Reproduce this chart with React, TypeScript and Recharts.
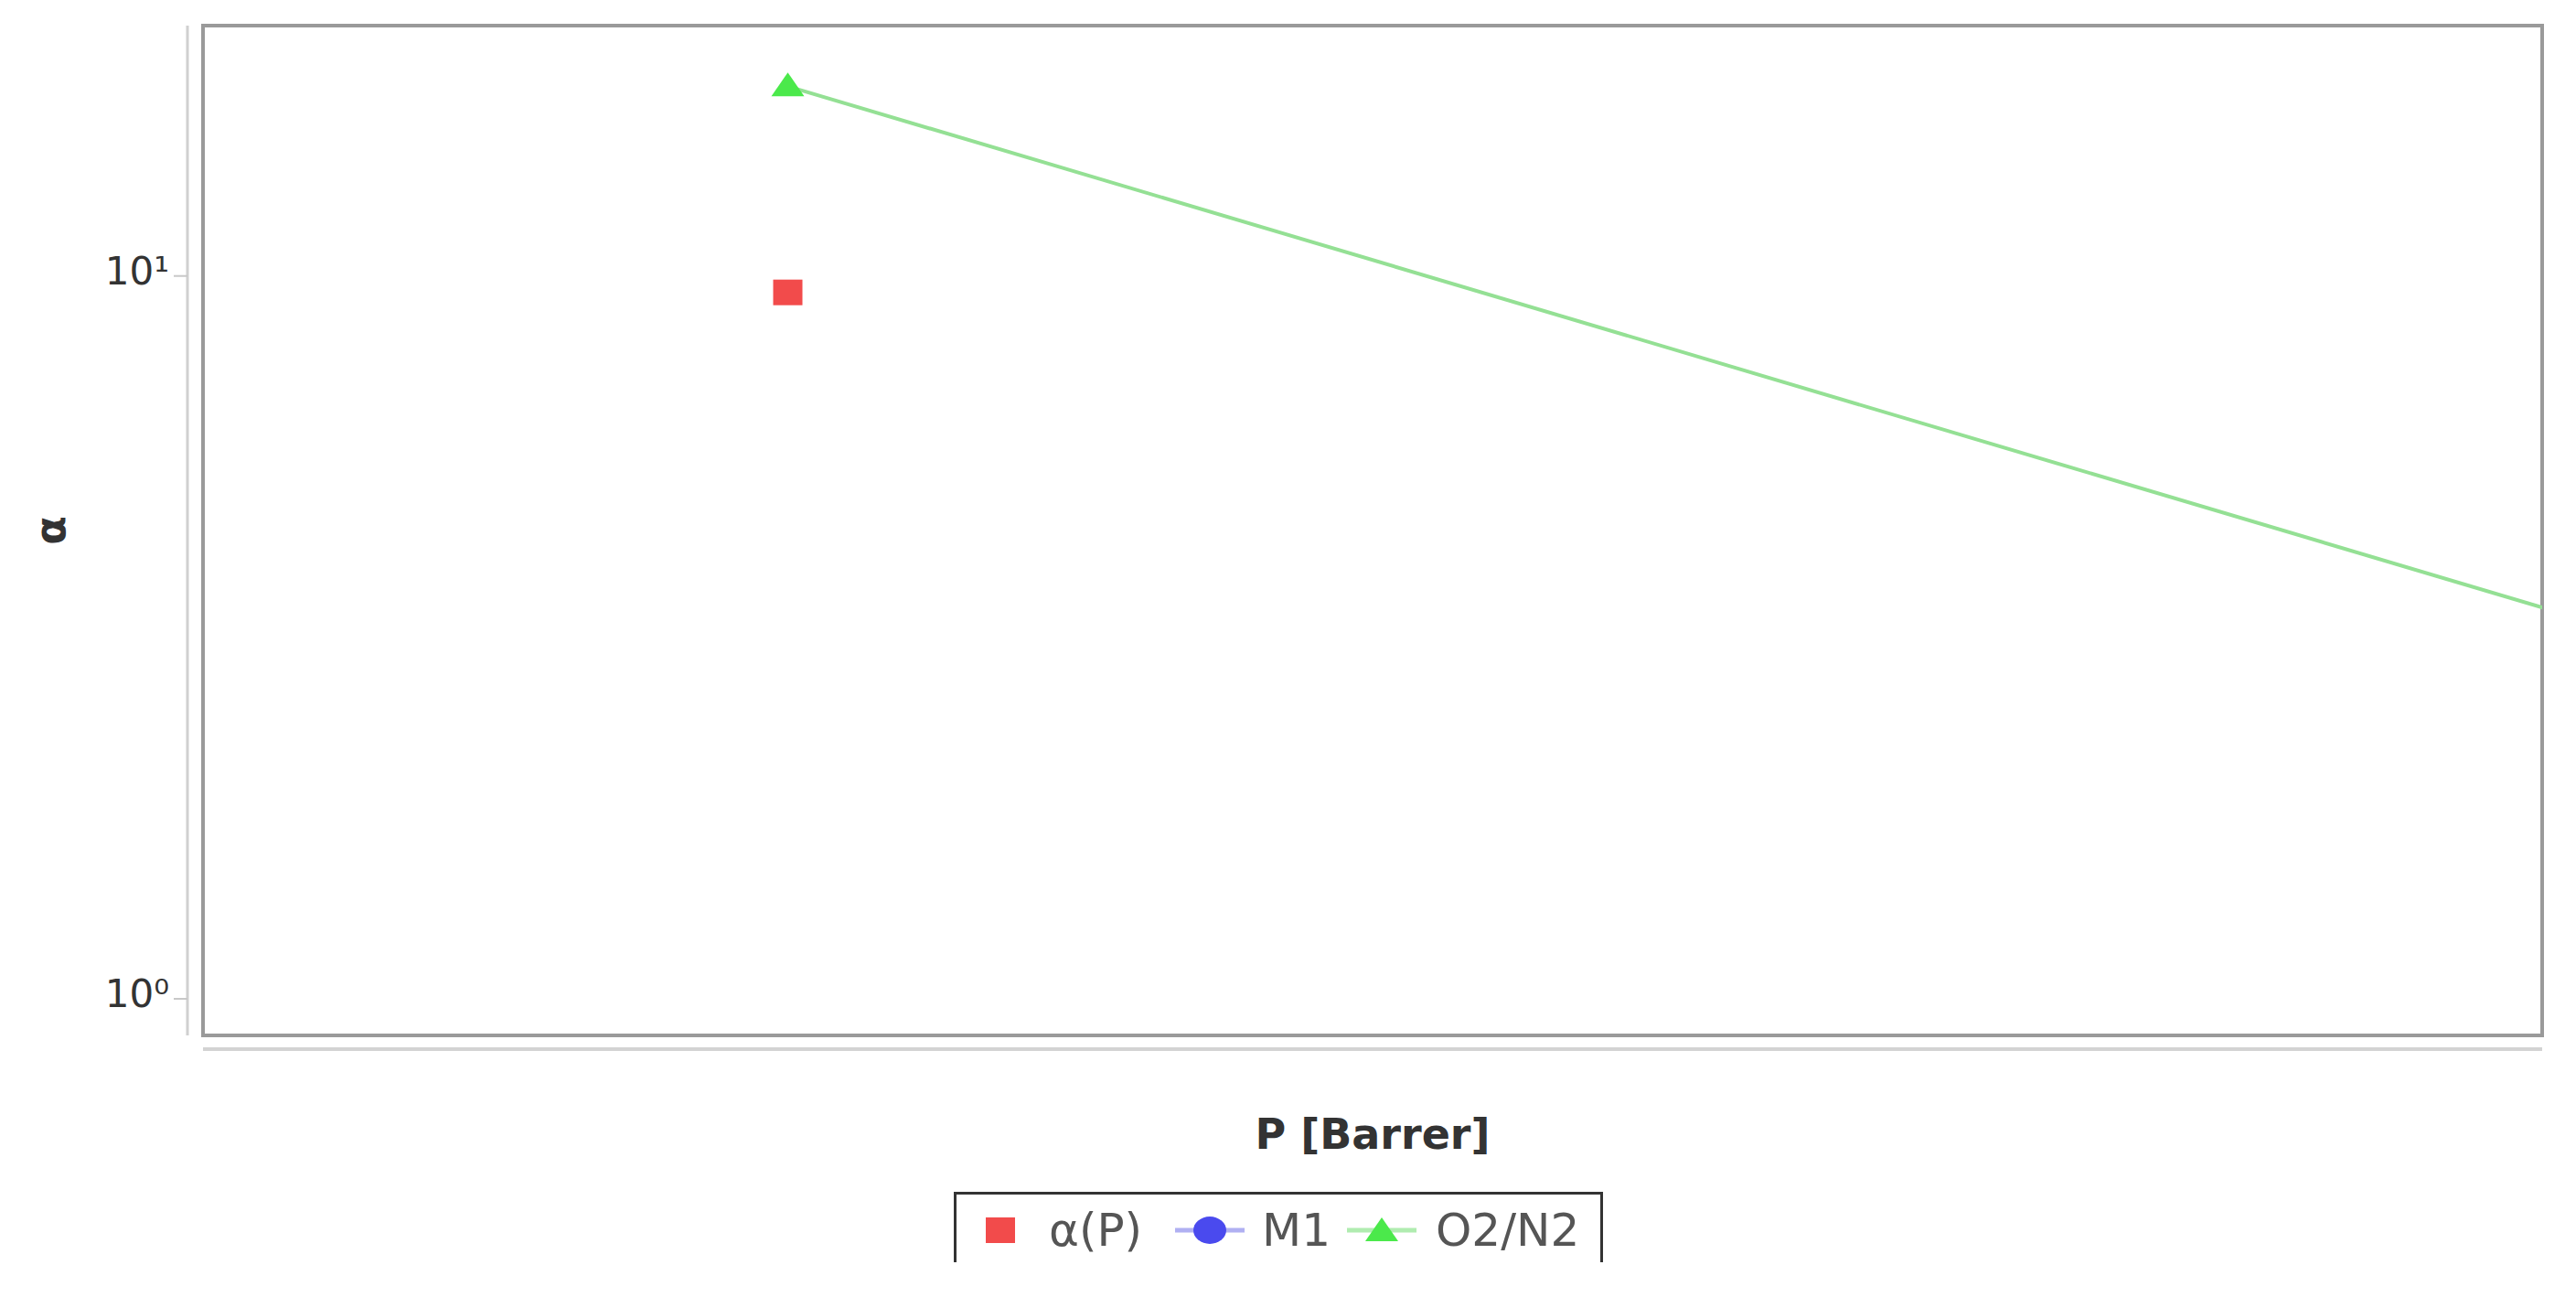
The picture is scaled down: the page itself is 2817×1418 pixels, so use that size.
import {
  ComposedChart,
  Line,
  Scatter,
  XAxis,
  YAxis,
  ReferenceArea,
  Legend,
} from "recharts";

// values
const alphaP = [{ x: 1, y: 9.49 }];
const m1: { x: number; y: number }[] = [];
const o2n2 = [
  { x: 1, y: 18.3 },
  { x: 6, y: 1.15 },
];

const xDomain: [number, number] = [0, 4];
const yDomain: [number, number] = [0.89, 22.2];
const yTicks = [1, 10];
const yTickLabels = ["10⁰", "10¹"];

const legendItems = [
  { name: "α(P)", kind: "square", color: "#f24b4b", line: "", icon: 31, text: 101 },
  { name: "M1", kind: "circle", color: "#4a4aee", line: "#b0b0f2", icon: 239, text: 334 },
  { name: "O2/N2", kind: "triangle", color: "#4be94b", line: "#b0ecb0", icon: 427, text: 524 },
];

const FONT = "DejaVu Sans";

function LogTick({ x, y, payload }: any) {
  const i = yTicks.indexOf(payload.value);
  return (
    <text
      x={x - 22}
      y={y + 9}
      textAnchor="end"
      fontSize={42}
      fill="#333"
      fontFamily={FONT}
    >
      {yTickLabels[i]}
    </text>
  );
}

function SquareShape({ cx, cy }: any) {
  return <rect x={cx - 16} y={cy - 14} width={32} height={28} fill="#f24b4b" />;
}

function TriangleDot({ cx, cy, index }: any) {
  if (cx == null || cy == null) return <g key={index} />;
  return (
    <polygon
      key={index}
      points={`${cx},${cy - 15} ${cx + 18},${cy + 11} ${cx - 18},${cy + 11}`}
      fill="#4be94b"
    />
  );
}

function LegendIcon({ kind, color, line }: any) {
  if (kind === "square") {
    return (
      <svg width={34} height={30} style={{ display: "block" }}>
        <rect x={1} y={1} width={32} height={28} fill={color} />
      </svg>
    );
  }
  return (
    <svg width={76} height={34} style={{ display: "block" }}>
      <line x1={0} y1={17} x2={76} y2={17} stroke={line} strokeWidth={5} />
      {kind === "circle" ? (
        <ellipse cx={38} cy={17} rx={18} ry={15} fill={color} />
      ) : (
        <polygon points="38,3 56,29 20,29" fill={color} />
      )}
    </svg>
  );
}

function LegendBox() {
  return (
    <div
      style={{
        position: "relative",
        border: "3px solid #333",
        height: 120,
        boxSizing: "border-box",
        fontFamily: FONT,
        fontSize: 50,
        color: "#555",
        background: "#fff",
      }}
    >
      {legendItems.map((it) => (
        <div key={it.name}>
          <div
            style={{
              position: "absolute",
              left: it.icon,
              top: it.kind === "square" ? 24 : 22,
            }}
          >
            <LegendIcon {...it} />
          </div>
          <span
            style={{
              position: "absolute",
              left: it.text,
              top: 14,
              lineHeight: "50px",
              whiteSpace: "nowrap",
            }}
          >
            {it.name}
          </span>
        </div>
      ))}
    </div>
  );
}

export default function App() {
  return (
    <div
      style={{
        position: "absolute",
        left: 0,
        top: 0,
        width: 2817,
        height: 1380,
        overflow: "hidden",
        background: "#fff",
      }}
    >
      <ComposedChart
        width={2817}
        height={1380}
        margin={{ top: 28, right: 37, left: 0, bottom: 0 }}
      >
        <XAxis
          type="number"
          dataKey="x"
          domain={xDomain}
          allowDataOverflow
          height={248}
          tick={false}
          tickLine={false}
          axisLine={{ stroke: "#d3d3d3", strokeWidth: 4, transform: "translate(0,15)" }}
          label={{
            value: "P [Barrer]",
            position: "insideTop",
            offset: 91,
            fontSize: 46,
            fontWeight: "bold",
            fill: "#333",
            fontFamily: FONT,
          }}
        />
        <YAxis
          type="number"
          dataKey="y"
          scale="log"
          domain={yDomain}
          allowDataOverflow
          ticks={yTicks}
          width={222}
          tickSize={15}
          tickMargin={0}
          tick={<LogTick />}
          tickLine={{ stroke: "#c8c8c8", strokeWidth: 2, transform: "translate(-17,0)" }}
          axisLine={{ stroke: "#d0d0d0", strokeWidth: 3, transform: "translate(-17,0)" }}
          label={{
            content: ({ viewBox }: any) => (
              <text
                x={viewBox.x + 55}
                y={viewBox.y + viewBox.height / 2}
                transform={`rotate(-90 ${viewBox.x + 55} ${viewBox.y + viewBox.height / 2})`}
                textAnchor="middle"
                dominantBaseline="central"
                fontSize={46}
                fontWeight="bold"
                fill="#333"
                fontFamily={FONT}
              >
                α
              </text>
            ),
          }}
        />
        <ReferenceArea
          x1={xDomain[0]}
          x2={xDomain[1]}
          y1={yDomain[0]}
          y2={yDomain[1]}
          fill="none"
          stroke="#9a9a9a"
          strokeWidth={4}
          ifOverflow="visible"
        />
        <Line
          data={o2n2}
          dataKey="y"
          name="O2/N2"
          type="linear"
          stroke="#94e094"
          strokeWidth={4}
          dot={<TriangleDot />}
          activeDot={false}
          isAnimationActive={false}
        />
        <Line
          data={m1}
          dataKey="y"
          name="M1"
          stroke="#4a4aee"
          isAnimationActive={false}
        />
        <Scatter
          data={alphaP}
          dataKey="y"
          name="α(P)"
          fill="#f24b4b"
          shape={<SquareShape />}
          isAnimationActive={false}
        />
        <Legend
          layout="vertical"
          align="center"
          verticalAlign="middle"
          content={<LegendBox />}
          wrapperStyle={{ left: 1043, top: 1303, width: 710 }}
        />
      </ComposedChart>
    </div>
  );
}
